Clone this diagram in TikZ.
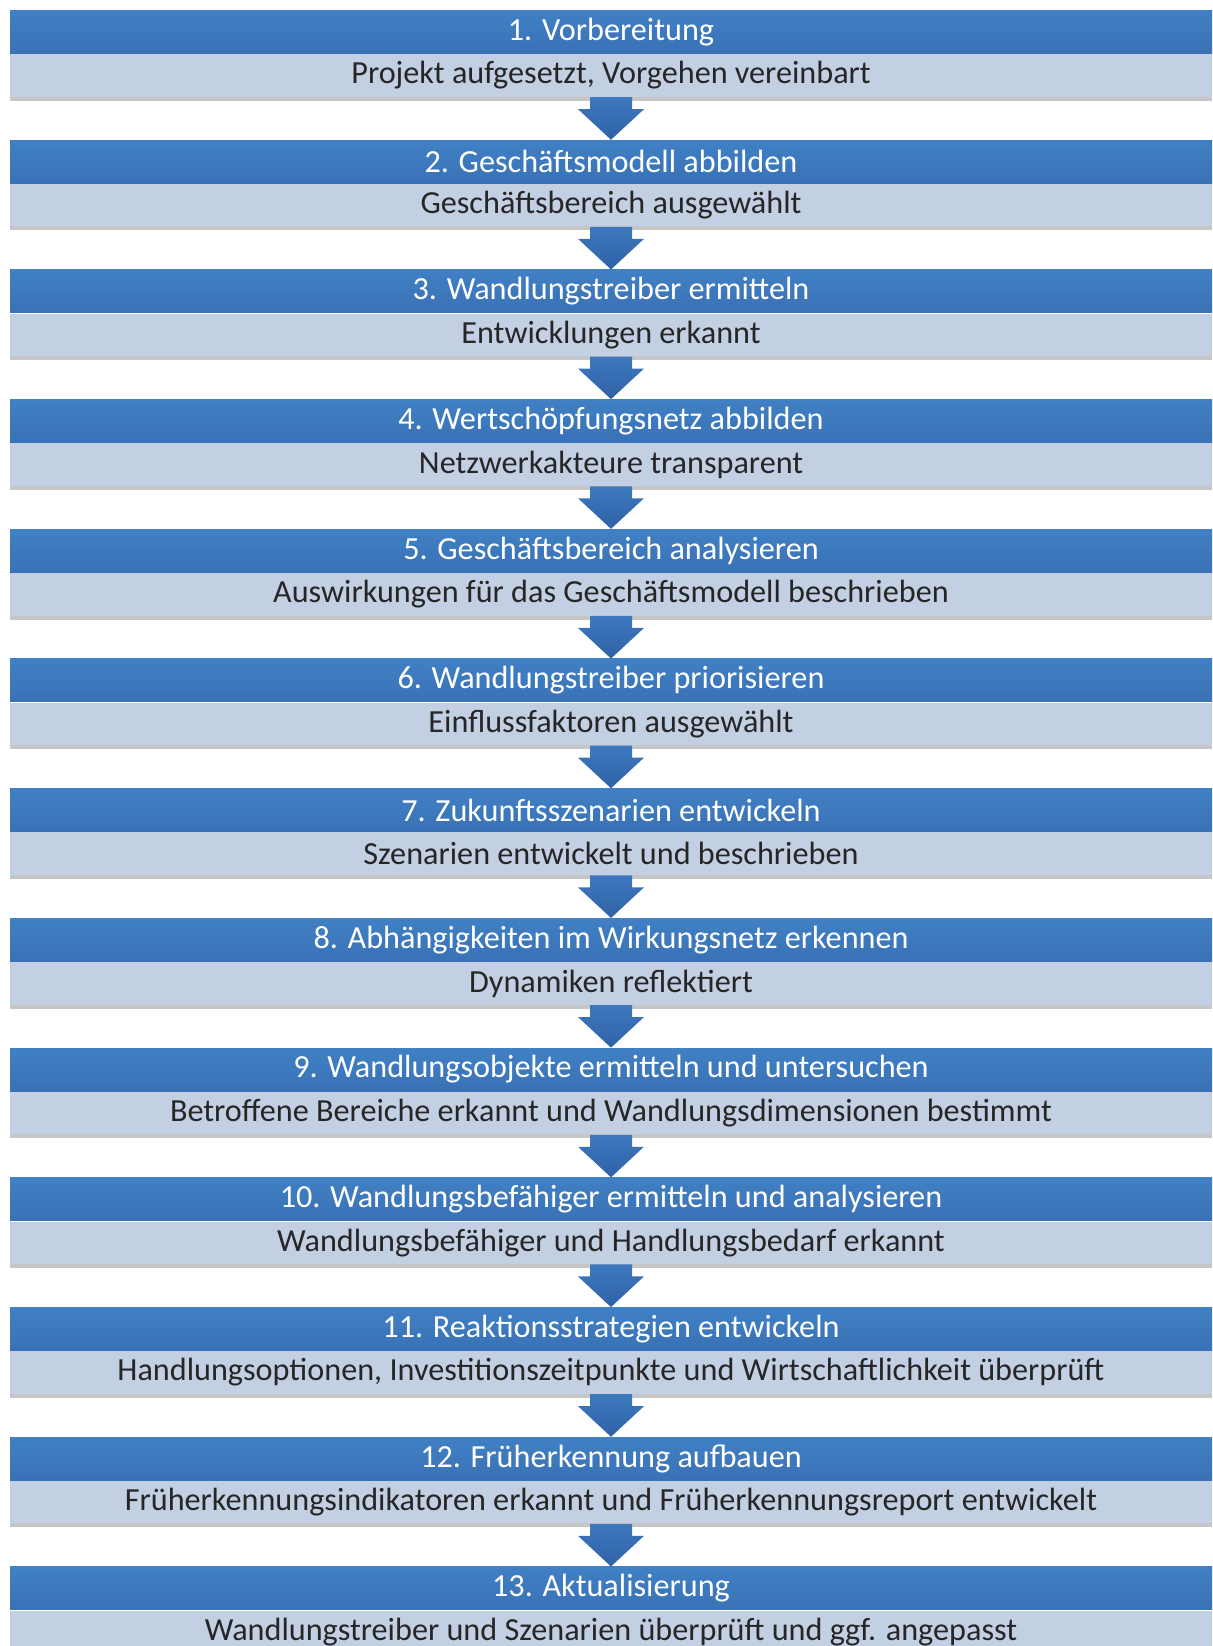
\documentclass[tikz,border=0pt]{standalone}
\usepackage{fontspec}
\setmainfont{Carlito}
\usetikzlibrary{positioning, calc, shadows}

\definecolor{headtop}{HTML}{4080C4}
\definecolor{headbot}{HTML}{3A71B6}
\definecolor{descfill}{HTML}{C3CFE3}
\definecolor{arrowtop}{HTML}{3E78BE}
\definecolor{arrowbot}{HTML}{2F62A6}
\definecolor{desctext}{HTML}{262626}

\begin{document}
\begin{tikzpicture}[x=0.5pt,y=-0.5pt,
  head/.style={minimum width=601pt, minimum height=21.5pt, inner sep=0pt,
    top color=headtop, bottom color=headbot, text=white,
    font=\fontsize{16.1}{18}\selectfont},
  desc/.style={minimum width=601pt, minimum height=21.25pt, inner sep=0pt,
    fill=descfill, text=desctext, font=\fontsize{16.1}{18}\selectfont,
    drop shadow={shadow xshift=0pt, shadow yshift=-2pt, opacity=0.45}}]

\useasboundingbox (0,0) rectangle (1212,1646);

\def\gap{129.7}

% steps
\foreach \i/\t/\d in {
  1/{1. Vorbereitung}/{Projekt aufgesetzt, Vorgehen vereinbart},
  2/{2. Geschäftsmodell abbilden}/{Geschäftsbereich ausgewählt},
  3/{3. Wandlungstreiber ermitteln}/{Entwicklungen erkannt},
  4/{4. Wertschöpfungsnetz abbilden}/{Netzwerkakteure transparent},
  5/{5. Geschäftsbereich analysieren}/{Auswirkungen für das Geschäftsmodell beschrieben},
  6/{6. Wandlungstreiber priorisieren}/{Einflussfaktoren ausgewählt},
  7/{7. Zukunftsszenarien entwickeln}/{Szenarien entwickelt und beschrieben},
  8/{8. Abhängigkeiten im Wirkungsnetz erkennen}/{Dynamiken reflektiert},
  9/{9. Wandlungsobjekte ermitteln und untersuchen}/{Betroffene Bereiche erkannt und Wandlungsdimensionen bestimmt},
  10/{10. Wandlungsbefähiger ermitteln und analysieren}/{Wandlungsbefähiger und Handlungsbedarf erkannt},
  11/{11. Reaktionsstrategien entwickeln}/{Handlungsoptionen, Investitionszeitpunkte und Wirtschaftlichkeit überprüft},
  12/{12. Früherkennung aufbauen}/{Früherkennungsindikatoren erkannt und Früherkennungsreport entwickelt},
  13/{13. Aktualisierung}/{Wandlungstreiber und Szenarien überprüft und ggf. angepasst}}
{
  \node[desc] (desc\i) at (611,{75.5+(\i-1)*\gap}) {\d};
  \node[head, above=0pt of desc\i] (head\i) {\t};
}

% arrows
\foreach \i in {1,...,12}
{
  \pgfmathtruncatemacro\j{\i+1}
  \shade[top color=arrowtop, bottom color=arrowbot]
    ($(desc\i.south)+(-21,0)$) -- ($(desc\i.south)+(21,0)$) -- ($(desc\i.south)+(21,12)$)
    -- ($(desc\i.south)+(33,12)$) -- (head\j.north) -- ($(desc\i.south)+(-33,12)$)
    -- ($(desc\i.south)+(-21,12)$) -- cycle;
}

\end{tikzpicture}
\end{document}
